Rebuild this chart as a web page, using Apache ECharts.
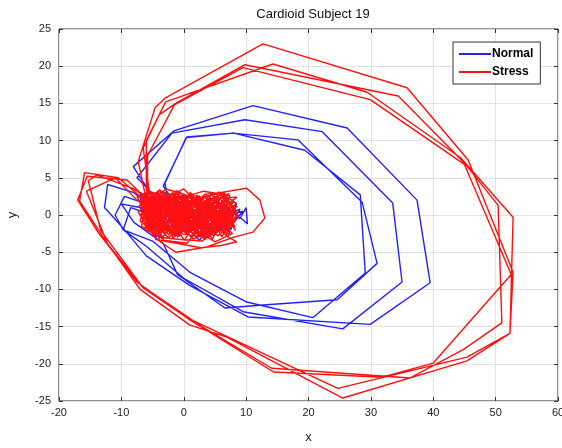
<!DOCTYPE html>
<html>
<head>
<meta charset="utf-8">
<script src="https://cdn.jsdelivr.net/npm/echarts@6/dist/echarts.min.js"></script>
<style>html,body{margin:0;padding:0;background:#fff}#c{width:562px;height:448px}</style>
</head>
<body>
<div id="c"></div>
<script>
// ---- Normal (blue) trajectory pieces ----
const normalClusterA = [[-5,1.2],[-3,-1.5],[-1,2],[1,-2],[3,1.5],[5,-1],[7,1],[9,-0.5],[10,1],[10.2,-1.2],[8,0.5],[6,-2],[4,2],[2,-1],[0,1.5],[-2,-2.5],[-4,0.5]];
const normalLoopA = [[-5,2.5],[-8.1,6.5],[-1.6,11.3],[11.1,14.7],[26.2,11.7],[37.4,2.0],[39.5,-9.1],[29.9,-14.7],[10.3,-13.7],[1,-9.5],[-6,-5.5],[-10,-1.5],[-12.7,1],[-12.2,4.1],[-8,3],[-5,1]];
const normalClusterB = [[-6,2.5],[-5,-1],[-3,2.5],[-1,-3],[1,1],[3,-2.5],[5,2],[7,-1.5],[8.5,1.5],[6,0],[4,-1.5],[2,2.5],[0,-1],[-2,1]];
const normalLoopB = [[-4,2],[-7.5,5],[-1.9,11],[9.8,12.8],[22.2,11.2],[33.5,1.6],[35,-9],[25.5,-15.3],[9.5,-13],[0,-8.5],[-6,-4.2],[-9.7,-2],[-11,0],[-9.5,2.5],[-6,1.5]];
const normalClusterC = [[-4,-2],[-6.5,0],[-7,2.8],[-4.5,-3],[-1.5,0],[2.5,-3.4],[5.5,-0.5],[9,0.8],[7.5,-2],[4.5,0.8],[1.5,-1.5],[-1,1]];
const normalLoopC = [[-3.3,3.9],[0.5,10.5],[7.9,11],[18.3,10.1],[28.6,1.7],[31,-6.5],[24.6,-11.4],[12.7,-12.1],[6.6,-12.5],[-1,-8],[-3.3,-3.8],[-8,-1],[-10,1.5],[-7,1]];
const normalClusterD = [[-3.5,-2.8],[-6,1],[-3,0],[0,2],[3,-1],[6,1.5],[8,-1],[9.5,0.5],[7,0],[4,-2.8],[1,0.5],[-2,-1.5]];
const normalLoopD = [[-3,4.3],[0.4,10.4],[8,11],[19.4,8.7],[28.3,2.7],[29.1,-7.8],[20.7,-13.8],[10.1,-11.7],[1,-7.7],[-5,-3.5],[-9.7,-2],[-8.5,1],[-5,0]];
const normalClusterE = [[-2,2],[1,-1],[4,1],[7,-0.5],[5,-2.2],[2,0.8],[-1,-0.5],[-4,1.5],[-6,-0.5],[-3,-1]];

// ---- Stress (red) trajectory pieces ----
const stressClusterA = [[-6.5,1.5],[-2,-2],[3,2.2],[6.5,-1],[1,-2.8],[-4,2.8],[-7,0],[-1,1.5],[4,-2.2],[7.5,0.8],[2,1.8],[-3,-2.5],[-5.5,2],[0,-1],[5,2.5],[8,-1.5],[3.5,-2.8],[-1.5,2.5],[-6,-1.2],[-2.5,0.5],[2.5,-1.5],[6,1.6],[4,-0.5],[-0.5,3],[-4.5,-2],[-6.8,2.2],[-3.5,1],[1.5,-3.2],[5.5,-2],[8.5,0.5],[6.8,2],[3,0],[-1,-2.8],[-5,-0.5],[-7.2,1.2],[-4,3.3],[0.5,2],[2,-2.2],[4.5,1.2],[7,-2.2],[5,0.5],[1,3],[-2,-1],[-5,1],[-6,-2.3],[-3,3]];
const stressExcursionA = [[0,0.5],[3.5,2.8],[5.8,3],[10.1,3.6],[12.2,2],[13,-0.4],[11.1,-2.3],[7.9,-3],[3.7,-4.3],[-1.3,-5],[-3.8,-3.6]];
const stressLoopA = [[-6,2],[-7.3,7.2],[-4.6,14.4],[-3,15.7],[12.7,23],[35.8,17.1],[45.6,7.4],[52.8,-7.7],[52.3,-15.9],[45.4,-19.6],[25.5,-24.6],[6.9,-16.4],[1,-14.8],[-7,-10],[-12.5,-3.5],[-16.7,1.9],[-15.9,5.7],[-10.5,5],[-7,2.5]];
const stressClusterB = [[0,0.5],[3.5,2.8],[6,-0.3],[8,1.8],[4,-3],[0,-2],[-3.5,-1.5],[-6.5,0.5],[-4.5,2.3],[-1,0],[2.5,2.6],[5,-1.2],[7.2,0.2],[3,-3.5],[-0.5,-3.3],[-4,-3],[-7,-0.8],[-5.5,3.2],[-2,2],[1,0.8],[4,1.8],[6.5,3],[8.8,-0.3],[5.5,-2.8],[2,-0.5],[-1.5,-1.8],[-5,0],[-3,2.2],[0,3.5],[3,1],[5.5,1.8],[7.5,-0.8],[4.5,-1.8],[1.5,-1],[-2.5,-3],[-6,-0.2],[-7.5,2.5],[-4,1.5]];
const stressLoopB = [[-5.5,3],[-6.5,9],[-3.9,13.5],[-1.3,15],[9.8,20.2],[34.4,16],[45,7],[50.4,1.3],[51,-14.5],[44.8,-18.1],[36.3,-21.9],[14.1,-20.6],[0.5,-13.8],[-6.5,-9.8],[-13.3,-2.1],[-15.3,4.6],[-13.9,5.4],[-8,3.5]];
const stressClusterC = [[-0.5,-0.8],[2.5,0.5],[6,2.4],[8.2,1],[6.8,-1.8],[3.5,-1],[0.5,-2.5],[-3,-0.5],[-5.8,1.8],[-2.8,3.5],[1.5,2.4],[4.8,0],[7.8,-2.5],[5,-3.6],[1,-1.5],[-2,0.8],[-4.8,-2.6],[-6.8,-1.5],[-5.2,2.6],[-1.2,1.2],[2.8,-2.6],[6.2,0.8],[8.5,2.4],[4.2,2.2],[0.8,0],[-2.2,-2.2],[-4.2,0],[-6.2,3],[-3.6,2],[0.2,-1.8],[3.8,-1.6],[7,1.2],[5.8,-0.8],[2.2,1.4],[-1.8,3],[-5.5,-1.5],[-3.2,-3.4],[0.5,-3.8],[4,-0.2]];
const stressExcursionB = [[6.8,-2.8],[8.5,-3.6],[6,-4.1],[2.7,-4.4],[-0.5,-3.9],[-4.5,-3.3]];
const stressLoopC = [[-6,3.5],[-6,10],[-2.9,15.2],[14.3,20.3],[29.4,16.5],[44.4,7.7],[52.8,-0.3],[52.3,-15.9],[45.4,-19.1],[24.7,-23.3],[1.5,-14.2],[-6.8,-9.5],[-12.2,-3.9],[-15.6,3.2],[-11,5],[-7.5,2]];
const stressClusterD = [[-4.5,1.2],[-1.5,-0.5],[1.8,2],[5.2,2.8],[8,0],[6.8,-2.8],[4,-0.2],[0.5,-3.8],[-3.2,-3.4],[-7,1.8],[-6,0.8],[-2.5,-1.2],[1.2,1.2],[4.6,-2.4],[7.4,2.6],[3.2,3.2],[-0.8,2.2],[-3.8,-0.8],[-6.4,-0.6],[-4.2,2.6],[-1,-1.2],[2.8,-0.8],[5.6,0.6],[8.2,-1],[6.4,1.4],[3,2.4],[-0.2,1],[-2.8,2.8],[-5.8,0.2],[-3.4,-2],[0.2,-2.6],[3.6,-3],[6,-1.6],[7.8,0.6]];
const stressLoopD = [[-5.8,3],[-5.8,8],[-1.5,14.8],[9.5,19.8],[29.9,15.5],[45,6.8],[52.5,-8],[40,-19.9],[31.8,-21.8],[14.4,-21.1],[0.8,-14],[-7.5,-9],[-13.6,-2.5],[-17,2],[-15.5,5.2],[-9.1,4.7],[-6.5,2.6]];
const stressClusterE = [[5,1],[1.6,-0.2],[-1.6,1.8],[-4.8,2],[-6.6,-0.4],[-4,-1],[-1.2,-2.4],[2.4,-1.8],[5.4,2.2],[7.2,-1.2],[4.4,0.4],[0.8,1.6],[-2.6,0],[-5.2,-0.8],[-7,2.6],[-4.4,3],[-0.8,-0.2],[2,-3],[5.2,-1.4],[8.6,1.2],[6.6,0],[3.4,1.6],[-0.4,2.6],[-3.2,1.4],[-6,1],[-2,-2.6],[1.5,0.2],[4.8,-2.8],[7.6,-0.4],[3.8,0.9],[-1,3.2],[-4.6,-1.6]];
const stressClusterF = [[-5.8,-2.2],[-3.1,1.9],[-0.7,-2.9],[2.1,2.7],[4.9,-0.9],[7.3,1.9],[5.1,-2.6],[2.6,0.3],[-0.3,-1.3],[-3.4,2.6],[-6.3,-1.8],[-4.1,-0.3],[-1.9,2.9],[0.9,-0.6],[3.7,2.1],[6.2,-2.4],[8.1,0.9],[6.1,2.7],[3.3,-2.1],[0.4,1.3],[-2.4,-2.7],[-5.1,0.7],[-6.9,3.1],[-4.7,-1.4],[-1.4,0.4],[1.9,-2.4],[4.4,2.9],[7.6,-1.4],[5.7,0.2],[2.9,-3.1],[-0.1,2.4],[-2.9,-1.9],[-5.6,1.1],[-3.8,3.4],[-0.9,-1.6],[2.3,1.1],[5.3,-1.7],[7.9,2.1],[4.6,-3.2],[1.3,0.7],[-1.7,-3.1],[-4.4,1.8],[-6.7,-0.9],[-5.3,2.3],[-2.1,-0.4],[1.1,2.9],[3.9,-0.8],[6.9,0.4],[8.3,-2.1],[5.9,1.3],[2.7,-1.2],[-0.6,0.9],[-3.6,-2.4],[-6.1,1.6],[-4.9,-2.9],[-1.1,2.1],[2.2,-0.2],[5.1,2.1],[7.7,-0.6],[4.3,-2.7],[1.6,1.9],[-1.3,-2.2],[-4.3,0.2],[-6.5,2.9],[-3.3,0.8],[0.1,-3.4],[3.1,0.6],[6.4,-1.1],[8.4,1.6],[5.6,3.1],[2.4,-2.8],[-0.4,0.2],[-2.7,2.4],[-5.4,-2.1],[-7.3,0.4],[-4.6,2.4],[-1.6,-1.1],[1.4,2.2],[4.1,-1.9],[7.1,2.4],[6.3,-0.6],[3.4,-3.3],[0.6,-0.9],[-2.3,1.6],[-5.2,-1.1],[-3.7,3.1],[-0.2,1.6],[2.6,-1.4],[5.4,1.4],[7.4,-2.6]];
const stressClusterG = [[-6.2,2.4],[-3.9,-2.2],[-1.2,3.3],[1.7,-1.9],[4.7,0.9],[6.7,-2.1],[3.6,1.4],[0.3,-2.2],[-2.6,0.9],[-5.9,-0.6],[-4.2,3.2],[-0.8,-2.6],[2.4,2.3],[5.6,-0.4],[8.7,0.3],[6.1,-2.9],[2.9,1.7],[-0.5,-1.4],[-3.3,2.1],[-6.6,0.9],[-5.1,-2.4],[-1.8,-0.2],[1.2,-3],[4.2,0.1],[7.3,2.9],[4.9,1.8],[1.6,-0.8],[-1.5,2.7],[-4.6,-0.1],[-7.1,2],[-3.4,-3],[0.3,0.6],[3.6,-2.5],[6.6,1.1],[8.2,-1.6],[4.5,-0.6],[0.9,2.6],[-2.2,-1.7],[-5.5,1.4],[-3,0.1],[0.7,1.8],[4,2.6],[6.9,-0.2],[5,-1.9],[1.8,0.5],[-1.4,-2.9],[-4.8,0.6],[-6.4,-1.3],[-2.5,1.2],[1,-1.2],[4.4,-1.2],[7.5,0.1]];

const normalData = [].concat(normalClusterA, normalLoopA, normalClusterB, normalLoopB, normalClusterC, normalLoopC, normalClusterD, normalLoopD, normalClusterE);
const stressData = [].concat(stressClusterA, stressExcursionA, stressLoopA, stressClusterB, stressLoopB, stressClusterC, stressExcursionB, stressLoopC, stressClusterD, stressLoopD, stressClusterE, stressClusterF, stressClusterG);

const chart = echarts.init(document.getElementById('c'), null, {renderer: 'canvas'});
const labelFont = {fontFamily: 'Liberation Sans', fontSize: 11, color: '#222'};
const gridLine = {show: true, lineStyle: {color: '#e2e2e2', width: 1}};
const tickIn = {show: true, inside: true, length: 4, lineStyle: {color: '#333'}};
chart.setOption({
  animation: false,
  backgroundColor: '#fff',
  title: {
    text: 'Cardioid Subject 19', left: 308, top: 3, textAlign: 'center',
    textStyle: {fontFamily: 'Liberation Sans', fontSize: 13, fontWeight: 'normal', color: '#111'}
  },
  legend: {
    orient: 'vertical', left: 453, top: 42, padding: [6, 7, 6, 6], itemGap: 6,
    backgroundColor: '#fff', borderColor: '#333', borderWidth: 1,
    icon: 'rect', itemWidth: 32, itemHeight: 2,
    textStyle: {fontFamily: 'Liberation Sans', fontSize: 12, fontWeight: 'bold', color: '#000', padding: [0,0,0,-4]},
    data: ['Normal', 'Stress']
  },
  grid: {left: 59, right: 4, top: 29, bottom: 47, show: true, borderColor: '#222', borderWidth: 1,
         backgroundColor: '#fff', containLabel: false, outerBoundsMode: 'none'},
  xAxis: [
    {type: 'value', min: -20, max: 60, interval: 10, name: 'x', nameLocation: 'middle', nameGap: 30,
     nameTextStyle: {fontFamily: 'Liberation Sans', fontSize: 13, color: '#222'},
     axisLine: {show: false, onZero: false}, axisTick: tickIn,
     axisLabel: Object.assign({margin: 6}, labelFont), splitLine: gridLine},
    {type: 'value', position: 'top', min: -20, max: 60, interval: 10,
     axisLine: {show: false, onZero: false}, axisTick: tickIn,
     axisLabel: {show: false}, splitLine: {show: false}}
  ],
  yAxis: [
    {type: 'value', min: -25, max: 25, interval: 5, name: 'y', nameLocation: 'middle', nameGap: 40,
     nameTextStyle: {fontFamily: 'Liberation Sans', fontSize: 13, color: '#222'},
     axisLine: {show: false, onZero: false}, axisTick: tickIn,
     axisLabel: Object.assign({margin: 8}, labelFont), splitLine: gridLine},
    {type: 'value', position: 'right', min: -25, max: 25, interval: 5,
     axisLine: {show: false, onZero: false}, axisTick: tickIn,
     axisLabel: {show: false}, splitLine: {show: false}}
  ],
  series: [
    {name: 'Normal', type: 'line', data: normalData, showSymbol: false, symbol: 'none', smooth: false,
     color: '#2222ff', lineStyle: {color: '#2222ff', width: 1.4}, clip: true},
    {name: 'Stress', type: 'line', data: stressData, showSymbol: false, symbol: 'none', smooth: false,
     color: '#ff1111', lineStyle: {color: '#ff1111', width: 1.4}, clip: true}
  ]
});
</script>
</body>
</html>
